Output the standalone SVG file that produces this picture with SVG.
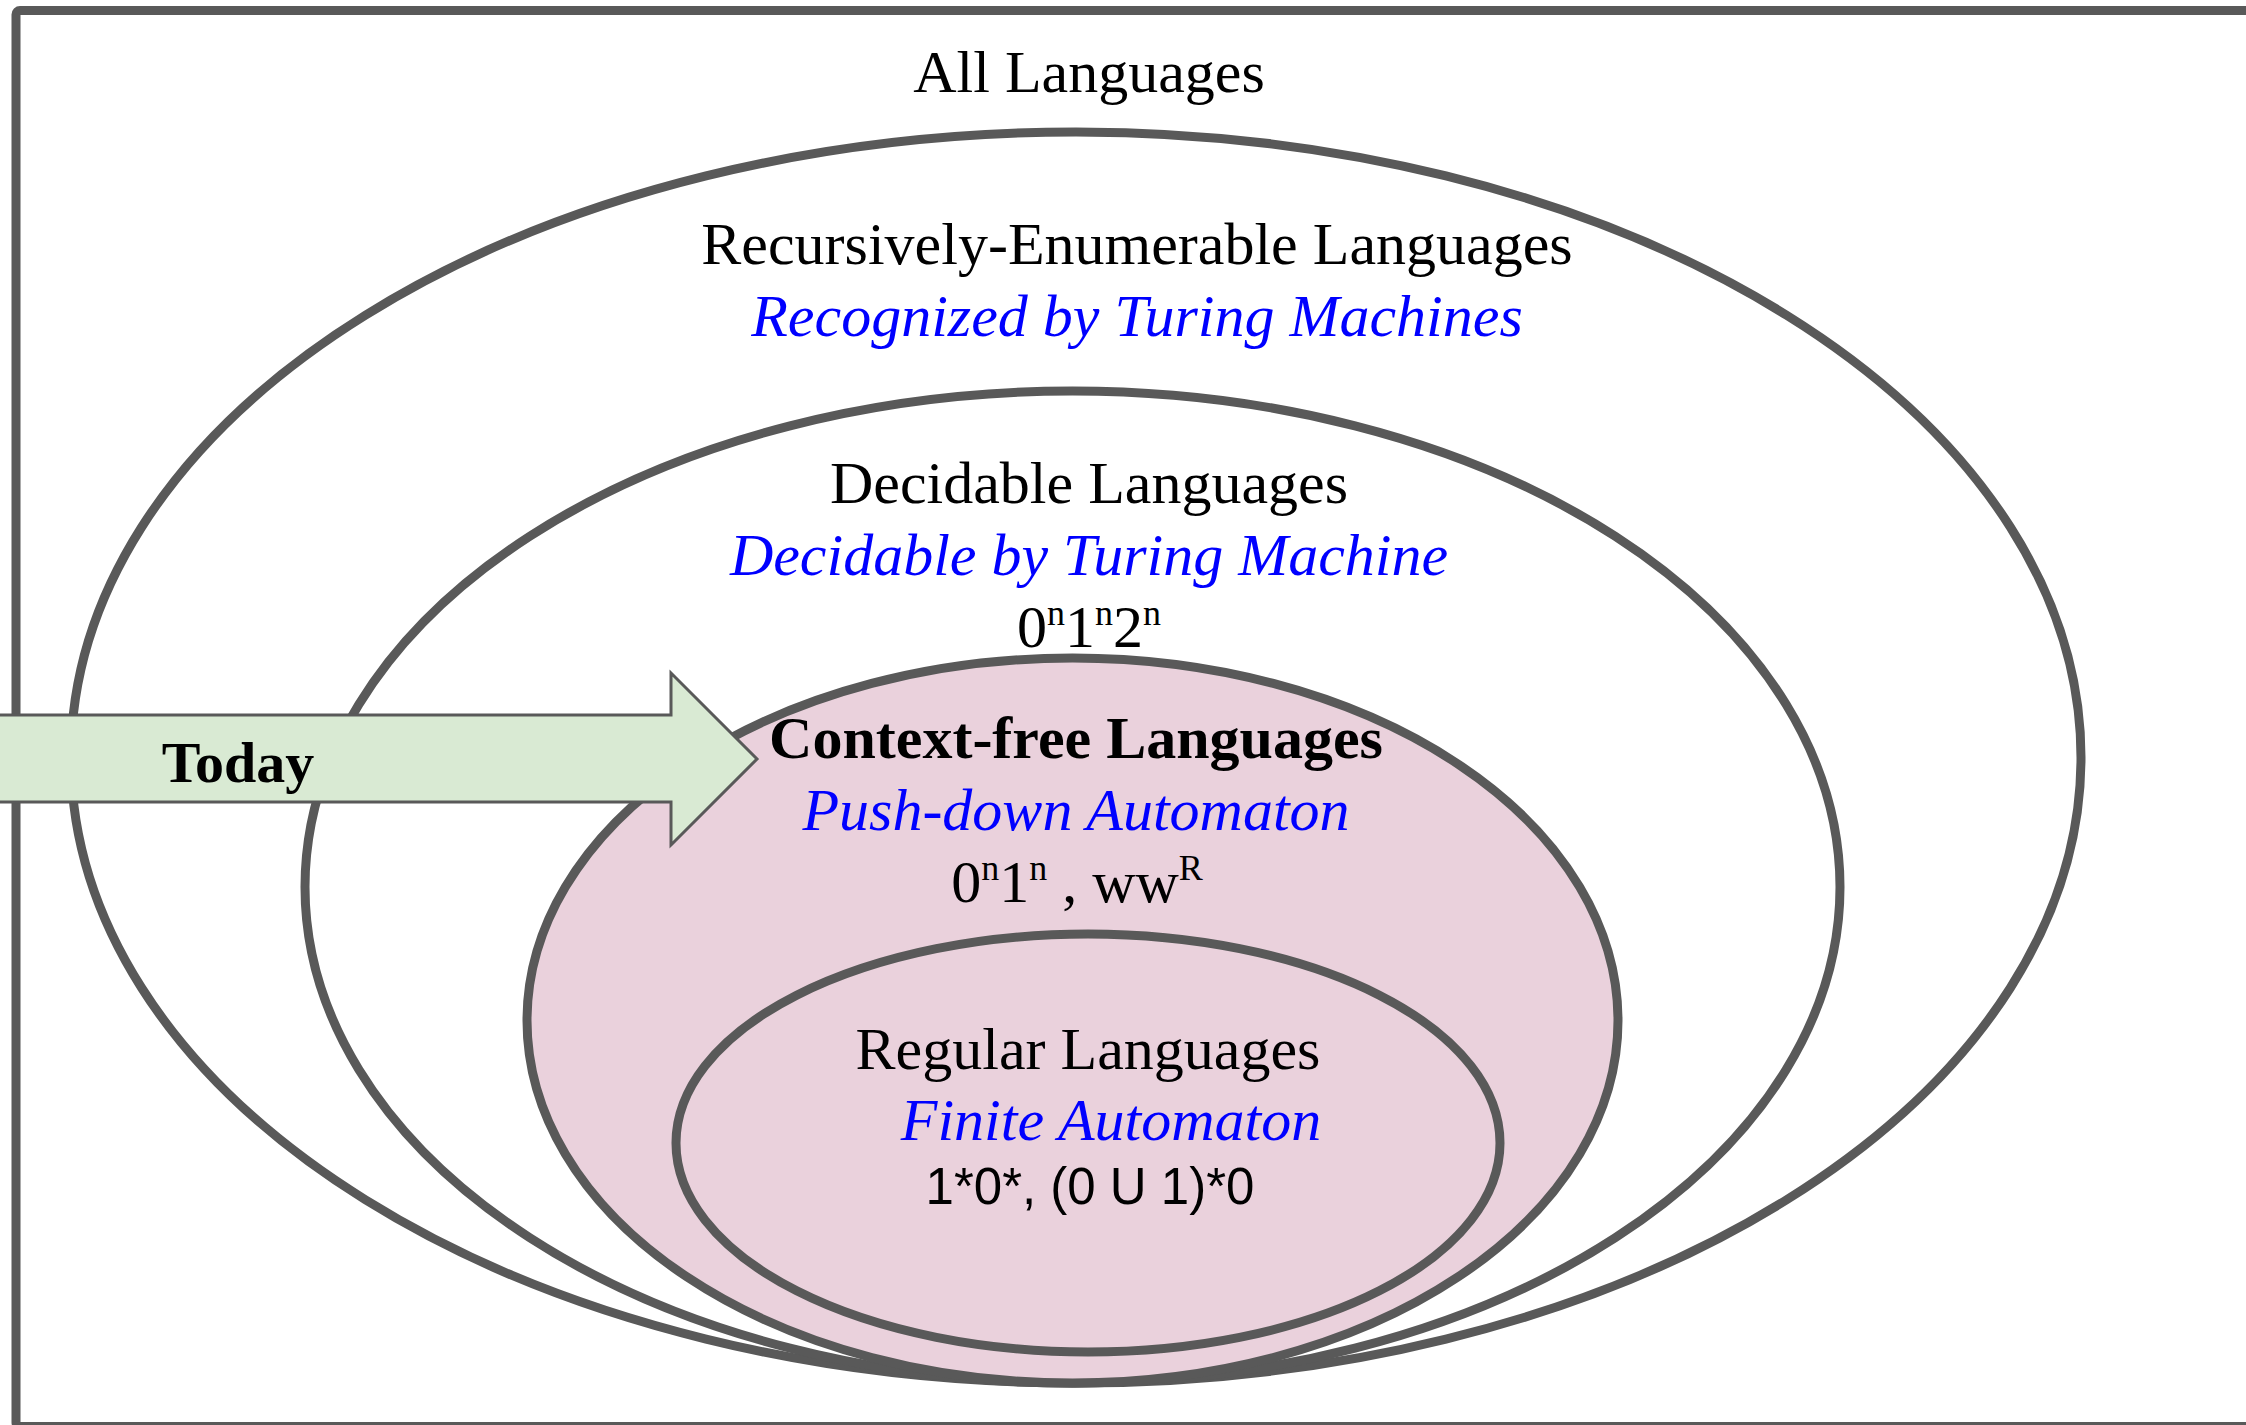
<svg xmlns="http://www.w3.org/2000/svg" width="2246" height="1425" viewBox="0 0 2246 1425">
<style>
.line{fill:none;stroke:#595959;stroke-width:9}
.pink{fill:#ead1dc;stroke:#595959;stroke-width:9}
.t{font-family:"Liberation Serif","Times New Roman",serif;font-size:60px;fill:#000;text-anchor:middle}
.b{font-weight:bold}
.i{font-style:italic;fill:#0000ff}
.s{font-family:"Liberation Sans",Arial,sans-serif;font-size:51px;fill:#000;text-anchor:middle}
.sup{font-size:36px}
</style>
<rect x="0" y="0" width="2246" height="1425" fill="#ffffff"/>
<g id="all-languages">
<rect class="line" x="16" y="10.5" width="2300" height="1416" rx="4"/>
<text class="t" x="1089" y="92">All Languages</text>
</g>
<g id="recursively-enumerable">
<ellipse class="line" cx="1076" cy="757.5" rx="1005" ry="625.5"/>
<text class="t" x="1137" y="264">Recursively-Enumerable Languages</text>
<text class="t i" x="1137" y="336">Recognized by Turing Machines</text>
</g>
<g id="decidable">
<ellipse class="line" cx="1072.5" cy="887" rx="767.5" ry="496"/>
<text class="t" x="1089" y="503">Decidable Languages</text>
<text class="t i" x="1089" y="575">Decidable by Turing Machine</text>
<text class="t" x="1089" y="647">0<tspan class="sup" dy="-22">n</tspan><tspan dy="22">1</tspan><tspan class="sup" dy="-22">n</tspan><tspan dy="22">2</tspan><tspan class="sup" dy="-22">n</tspan></text>
</g>
<g id="context-free">
<ellipse class="pink" cx="1072.5" cy="1020.5" rx="545.5" ry="362.5"/>
</g>
<g id="regular">
<ellipse class="pink" cx="1088" cy="1143" rx="412" ry="209"/>
<text class="t" x="1088" y="1069">Regular Languages</text>
<text class="t i" x="1111" y="1140">Finite Automaton</text>
<text class="s" x="1090" y="1204">1*0*, (0 U 1)*0</text>
</g>
<g id="today-arrow">
<polygon points="-5,715 671,715 671,673 757,759 671,845 671,802 -5,802" fill="#d9ead3" stroke="#595959" stroke-width="3" stroke-linejoin="miter"/>
<text class="t b" x="238" y="782" style="font-size:58px">Today</text>
</g>
<g id="context-free-labels">
<text class="t b" x="1076" y="758">Context-free Languages</text>
<text class="t i" x="1076" y="830">Push-down Automaton</text>
<text class="t" x="1077" y="902">0<tspan class="sup" dy="-22">n</tspan><tspan dy="22">1</tspan><tspan class="sup" dy="-22">n</tspan><tspan dy="22"> , ww</tspan><tspan class="sup" dy="-22">R</tspan></text>
</g>
</svg>
